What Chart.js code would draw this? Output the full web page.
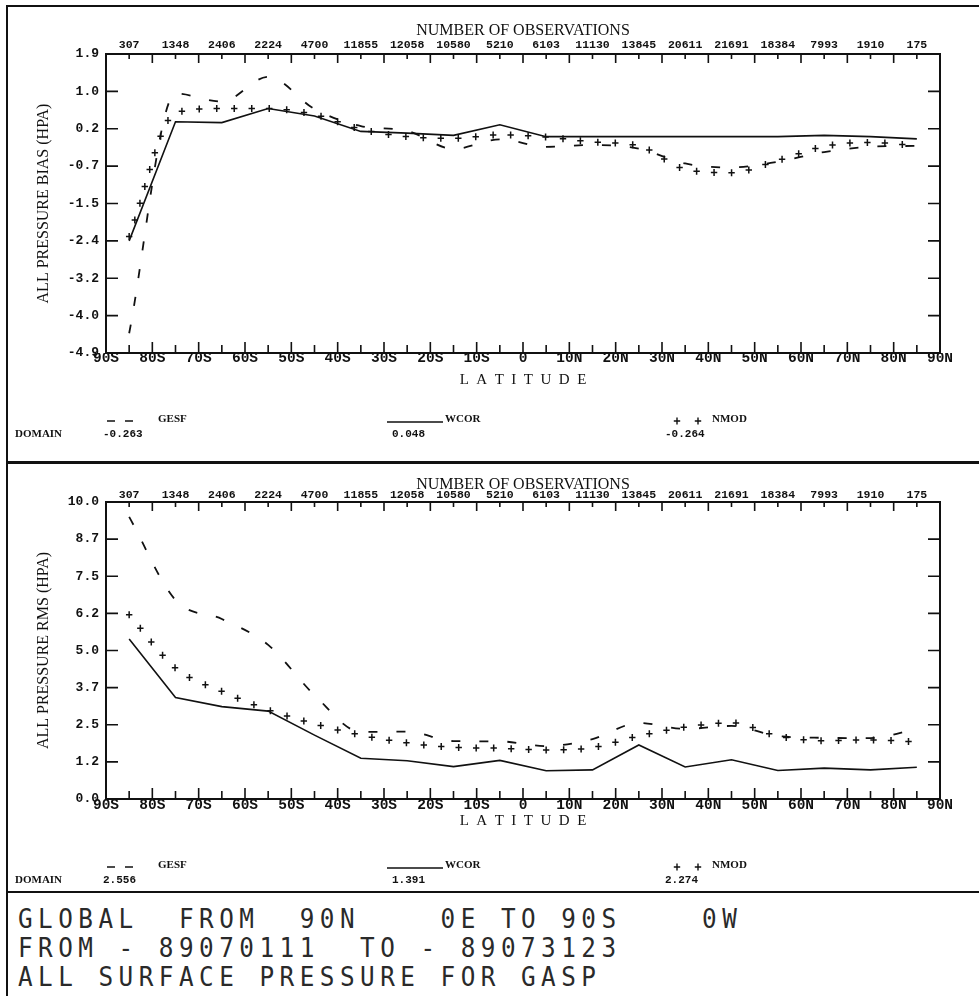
<!DOCTYPE html>
<html lang="en">
<head>
<meta charset="UTF-8">
<title>All surface pressure for GASP</title>
<script src="https://cdn.jsdelivr.net/npm/chart.js"></script>
<style>
  body { margin: 0; background: #fff; }
  .page { position: relative; width: 979px; height: 996px; overflow: hidden; background: #fff; }
  .page canvas { position: absolute; left: 0; }
  .rule { position: absolute; background: #111; }
  /* tall, thin plotter lettering on a fixed 20px pitch */
  .caption {
    position: absolute; left: 18px;
    font-family: 'DejaVu Sans Mono', monospace; font-size: 27px;
    letter-spacing: 6.1px; line-height: 27px; white-space: pre; color: #2a2a2a;
    transform: scaleX(0.9); transform-origin: 0 0;
  }
</style>
</head>
<body>
<div class="page">
  <canvas id="biasChart" width="979" height="462" style="top:0"></canvas>
  <canvas id="rmsChart" width="979" height="428" style="top:464px"></canvas>

  <div class="rule" style="left:6px;top:5px;width:973px;height:2px"></div>
  <div class="rule" style="left:6px;top:5px;width:2px;height:991px"></div>
  <div class="rule" style="left:6px;top:461px;width:973px;height:3px"></div>
  <div class="rule" style="left:6px;top:891px;width:973px;height:2px"></div>

  <div class="caption" style="top:905px">GLOBAL  FROM  90N    0E TO 90S    0W</div>
  <div class="caption" style="top:934px">FROM - 89070111  TO - 89073123</div>
  <div class="caption" style="top:963px">ALL SURFACE PRESSURE FOR GASP</div>
</div>

<script>
// ---- latitude bands ----
const latTicks = [-90, -80, -70, -60, -50, -40, -30, -20, -10, 0, 10, 20, 30, 40, 50, 60, 70, 80, 90];
const latLabels = ['90S', '80S', '70S', '60S', '50S', '40S', '30S', '20S', '10S', '0',
                   '10N', '20N', '30N', '40N', '50N', '60N', '70N', '80N', '90N'];
const bandCentres = [-85, -75, -65, -55, -45, -35, -25, -15, -5, 5, 15, 25, 35, 45, 55, 65, 75, 85];
const obsCounts = [307, 1348, 2406, 2224, 4700, 11855, 12058, 10580, 5210, 6103,
                   11130, 13845, 20611, 21691, 18384, 7993, 1910, 175];

// ---- y axes ----
const biasTicks = [-4.9, -4.05, -3.2, -2.35, -1.5, -0.65, 0.2, 1.05, 1.9];
const biasTickLabels = ['-4.9', '-4.0', '-3.2', '-2.4', '-1.5', '-0.7', '0.2', '1.0', '1.9'];
const rmsTicks = [0, 1.25, 2.5, 3.75, 5, 6.25, 7.5, 8.75, 10];
const rmsTickLabels = ['0.0', '1.2', '2.5', '3.7', '5.0', '6.2', '7.5', '8.7', '10.0'];

// ---- series (hPa) ----
const seriesNames = ['GESF', 'WCOR', 'NMOD'];
const gesfBias = [-4.45, 1.00, 0.82, 1.38, 0.65, 0.26, 0.15, -0.26, -0.04, -0.21, -0.17, -0.25, -0.59, -0.68, -0.55, -0.33, -0.21, -0.19];
const wcorBias = [-2.35, 0.36, 0.34, 0.66, 0.49, 0.14, 0.10, 0.05, 0.29, 0.02, 0.02, 0.02, 0.02, 0.02, 0.02, 0.05, 0.02, -0.03];
const nmodBias = [-2.25, 0.56, 0.66, 0.66, 0.52, 0.19, 0.02, -0.02, 0.06, 0.01, -0.10, -0.19, -0.72, -0.80, -0.52, -0.20, -0.11, -0.19];
const biasDomain = ['-0.263', '0.048', '-0.264'];

const gesfRms = [9.5, 6.7, 6.06, 5.19, 3.50, 2.26, 2.27, 1.95, 1.94, 1.78, 2.02, 2.56, 2.36, 2.46, 2.12, 2.06, 2.05, 2.36];
const wcorRms = [5.39, 3.42, 3.11, 2.96, 2.15, 1.37, 1.29, 1.09, 1.30, 0.95, 0.98, 1.82, 1.08, 1.32, 0.96, 1.04, 0.98, 1.07];
const nmodRms = [6.2, 4.41, 3.62, 3.00, 2.53, 2.15, 1.89, 1.74, 1.71, 1.65, 1.73, 2.12, 2.42, 2.57, 2.12, 1.96, 1.99, 1.92];
const rmsDomain = ['2.556', '1.391', '2.274'];

const INK = '#111';
const MONO = '"Liberation Mono", "DejaVu Sans Mono", monospace';
const SERIF = '"Liberation Serif", "DejaVu Serif", serif';

const toPoints = arr => bandCentres.map((x, i) => ({ x: x, y: arr[i] }));

function drawCross(ctx, x, y) {
  ctx.beginPath();
  ctx.moveTo(x - 3.2, y); ctx.lineTo(x + 3.2, y);
  ctx.moveTo(x, y - 3.5); ctx.lineTo(x, y + 3.5);
  ctx.stroke();
}

// "+" marks spaced evenly along the (smoothed) NMOD curve
const crossMarks = {
  id: 'crossMarks',
  afterDatasetsDraw(chart, args, opts) {
    const pts = chart.getDatasetMeta(opts.dataset).data;
    const ctx = chart.ctx;
    const step = opts.spacing;
    ctx.save();
    ctx.strokeStyle = INK;
    ctx.lineWidth = 1.5;
    drawCross(ctx, pts[0].x, pts[0].y);
    let run = 0, next = step;
    for (let i = 1; i < pts.length; i++) {
      const a = pts[i - 1], b = pts[i];
      const c1x = a.cp2x ?? a.x, c1y = a.cp2y ?? a.y;
      const c2x = b.cp1x ?? b.x, c2y = b.cp1y ?? b.y;
      let px = a.x, py = a.y;
      for (let k = 1; k <= 40; k++) {
        const t = k / 40, u = 1 - t;
        const x = u * u * u * a.x + 3 * u * u * t * c1x + 3 * u * t * t * c2x + t * t * t * b.x;
        const y = u * u * u * a.y + 3 * u * u * t * c1y + 3 * u * t * t * c2y + t * t * t * b.y;
        const d = Math.hypot(x - px, y - py);
        if (d > 0) {
          while (run + d >= next) {
            const f = (next - run) / d;
            drawCross(ctx, px + f * (x - px), py + f * (y - py));
            next += step;
          }
          run += d;
        }
        px = x; py = y;
      }
    }
    ctx.restore();
  }
};

// plot frame with inward tick marks on all four sides
const frameTicks = {
  id: 'frameTicks',
  afterDraw(chart, args, opts) {
    const { ctx, chartArea: a, scales } = chart;
    ctx.save();
    ctx.strokeStyle = INK;
    ctx.lineWidth = 2;
    ctx.strokeRect(a.left, a.top, a.right - a.left, a.bottom - a.top);
    ctx.lineWidth = 1.6;
    ctx.beginPath();
    opts.yTicks.slice(1, -1).forEach(v => {
      const y = scales.y.getPixelForValue(v);
      ctx.moveTo(a.left, y); ctx.lineTo(a.left + 12, y);
      ctx.moveTo(a.right, y); ctx.lineTo(a.right - 12, y);
    });
    latTicks.slice(1, -1).forEach(v => {
      const x = scales.x.getPixelForValue(v);
      ctx.moveTo(x, a.bottom); ctx.lineTo(x, a.bottom - 11);
      ctx.moveTo(x, a.top); ctx.lineTo(x, a.top + 9);
    });
    bandCentres.forEach(v => {
      const x = scales.x.getPixelForValue(v);
      ctx.moveTo(x, a.bottom); ctx.lineTo(x, a.bottom - 8);
      ctx.moveTo(x, a.top); ctx.lineTo(x, a.top + 5);
    });
    ctx.stroke();
    ctx.restore();
  }
};

// key row under each panel: line style, name and domain mean
const domainKey = {
  id: 'domainKey',
  afterDraw(chart, args, opts) {
    const ctx = chart.ctx;
    const yName = chart.chartArea.bottom + 66;
    const yVal = chart.chartArea.bottom + 81;
    ctx.save();
    ctx.fillStyle = INK;
    ctx.strokeStyle = INK;
    ctx.textBaseline = 'middle';
    ctx.textAlign = 'left';

    ctx.lineWidth = 1.6;
    ctx.beginPath();
    ctx.moveTo(107, yName + 2); ctx.lineTo(115, yName + 2);
    ctx.moveTo(125, yName + 2); ctx.lineTo(133, yName + 2);
    ctx.moveTo(387, yName + 3); ctx.lineTo(443, yName + 3);
    ctx.stroke();
    ctx.lineWidth = 1.4;
    drawCross(ctx, 677, yName + 2);
    drawCross(ctx, 698, yName + 2);

    ctx.font = 'bold 11px ' + SERIF;
    ctx.fillText(seriesNames[0], 158, yName);
    ctx.fillText(seriesNames[1], 445, yName);
    ctx.fillText(seriesNames[2], 712, yName);
    ctx.fillText('DOMAIN', 15, yVal);

    ctx.font = 'bold 11px ' + MONO;
    ctx.fillText(opts.values[0], 103, yVal);
    ctx.fillText(opts.values[1], 392, yVal);
    ctx.fillText(opts.values[2], 665, yVal);
    ctx.restore();
  }
};

function buildPanel(canvasId, p) {
  return new Chart(document.getElementById(canvasId), {
    type: 'line',
    data: {
      datasets: [
        { label: seriesNames[0], data: toPoints(p.gesf), borderColor: INK, borderWidth: 1.8,
          borderDash: [9, 19], pointRadius: 0, cubicInterpolationMode: 'monotone' },
        { label: seriesNames[1], data: toPoints(p.wcor), borderColor: INK, borderWidth: 1.6,
          pointRadius: 0, tension: 0 },
        { label: seriesNames[2], data: toPoints(p.nmod), borderColor: 'rgba(0,0,0,0)', borderWidth: 0,
          pointRadius: 0, cubicInterpolationMode: 'monotone' }
      ]
    },
    options: {
      responsive: false,
      animation: false,
      events: [],
      layout: { padding: { left: 0, right: 39, top: 0, bottom: p.bottomPad } },
      scales: {
        x: {
          type: 'linear', position: 'bottom', min: -90, max: 90,
          grid: { display: false, drawTicks: false },
          border: { display: false },
          afterBuildTicks: s => { s.ticks = latTicks.map(v => ({ value: v })); },
          afterFit: s => { s.height = 40; },
          ticks: { autoSkip: false, maxRotation: 0, minRotation: 0, padding: p.latPad, color: INK,
                   font: { family: MONO, size: 14.5, weight: 'bold' },
                   callback: (v, i) => latLabels[i] },
          title: { display: true, text: 'L  A  T  I  T  U  D  E', color: INK,
                   font: { family: SERIF, size: 15 }, padding: { top: 0, bottom: p.latTitlePad } }
        },
        xTop: {
          type: 'linear', axis: 'x', position: 'top', min: -90, max: 90,
          grid: { display: false, drawTicks: false },
          border: { display: false },
          afterBuildTicks: s => { s.ticks = bandCentres.map(v => ({ value: v })); },
          afterFit: s => { s.height = p.topHeight; },
          ticks: { autoSkip: false, maxRotation: 0, minRotation: 0, padding: p.obsPad, color: INK,
                   font: { family: MONO, size: 11.5, weight: 'bold' },
                   callback: (v, i) => String(obsCounts[i]) },
          title: { display: true, text: 'NUMBER OF OBSERVATIONS', color: INK,
                   font: { family: SERIF, size: 16 }, padding: { top: p.obsTitlePad, bottom: 0 } }
        },
        y: {
          type: 'linear', position: 'left', min: p.yTicks[0], max: p.yTicks[p.yTicks.length - 1],
          grid: { display: false, drawTicks: false },
          border: { display: false },
          afterBuildTicks: s => { s.ticks = p.yTicks.map(v => ({ value: v })); },
          afterFit: s => { s.width = 106; },
          ticks: { autoSkip: false, padding: 7, color: INK,
                   font: { family: MONO, size: 13, weight: 'bold' },
                   callback: (v, i) => p.yLabels[i] },
          title: { display: true, text: p.yTitle, color: INK,
                   font: { family: SERIF, size: 16 }, padding: { top: 34, bottom: 0 } }
        }
      },
      plugins: {
        legend: { display: false },
        tooltip: { enabled: false },
        crossMarks: { dataset: 2, spacing: 17.5 },
        frameTicks: { yTicks: p.yTicks },
        domainKey: { values: p.domain }
      }
    },
    plugins: [crossMarks, frameTicks, domainKey]
  });
}

buildPanel('biasChart', {
  gesf: gesfBias, wcor: wcorBias, nmod: nmodBias, domain: biasDomain,
  yTicks: biasTicks, yLabels: biasTickLabels, yTitle: 'ALL PRESSURE BIAS (HPA)',
  bottomPad: 69, topHeight: 54, obsPad: 2, obsTitlePad: 21, latPad: -3, latTitlePad: 4
});

buildPanel('rmsChart', {
  gesf: gesfRms, wcor: wcorRms, nmod: nmodRms, domain: rmsDomain,
  yTicks: rmsTicks, yLabels: rmsTickLabels, yTitle: 'ALL PRESSURE RMS (HPA)',
  bottomPad: 53, topHeight: 38, obsPad: 0, obsTitlePad: 11, latPad: -2, latTitlePad: 9
});
</script>
</body>
</html>
